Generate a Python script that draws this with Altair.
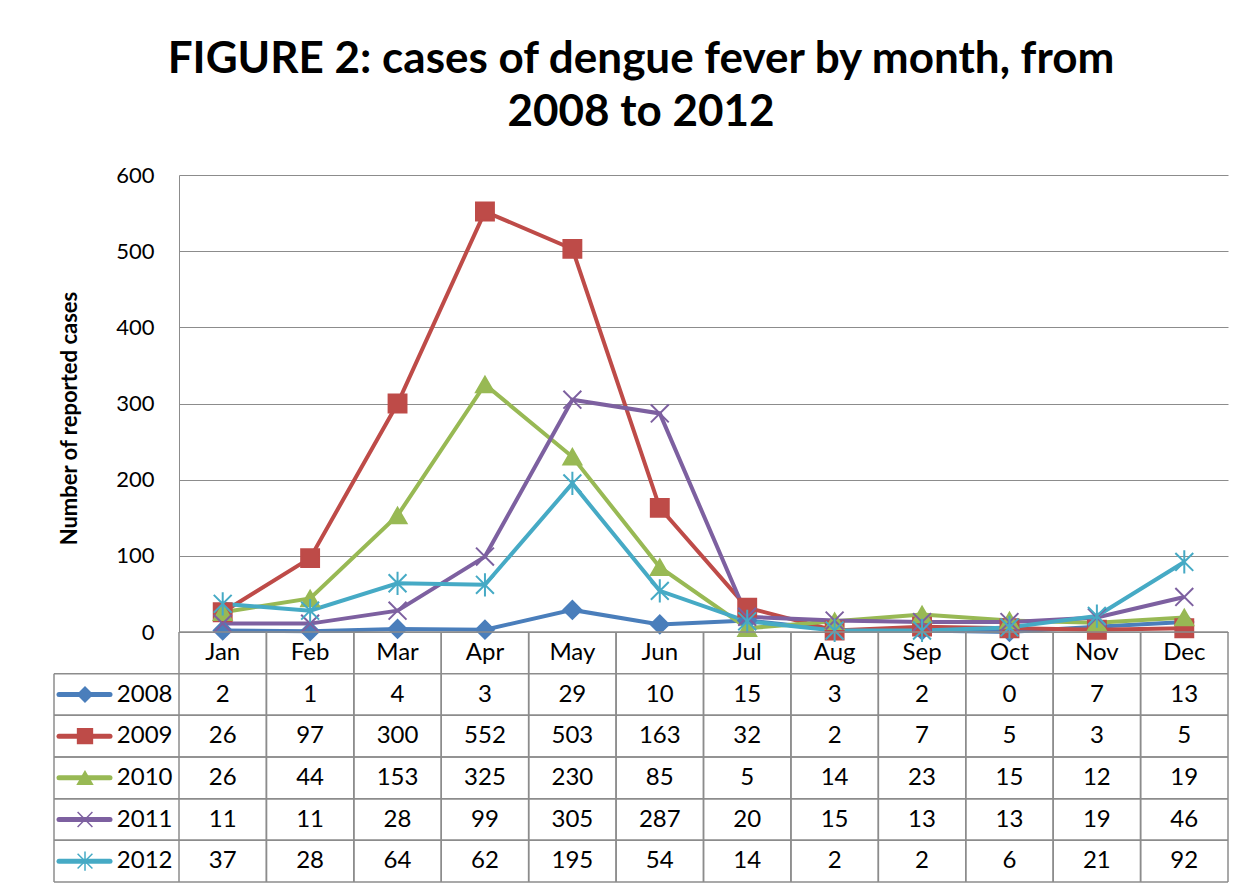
import altair as alt
import pandas as pd

months = ["Jan", "Feb", "Mar", "Apr", "May", "Jun", "Jul", "Aug", "Sep", "Oct", "Nov", "Dec"]
years = ["2008", "2009", "2010", "2011", "2012"]
v2008 = [2, 1, 4, 3, 29, 10, 15, 3, 2, 0, 7, 13]
v2009 = [26, 97, 300, 552, 503, 163, 32, 2, 7, 5, 3, 5]
v2010 = [26, 44, 153, 325, 230, 85, 5, 14, 23, 15, 12, 19]
v2011 = [11, 11, 28, 99, 305, 287, 20, 15, 13, 13, 19, 46]
v2012 = [37, 28, 64, 62, 195, 54, 14, 2, 2, 6, 21, 92]
series = [v2008, v2009, v2010, v2011, v2012]

colors = ["#4A7EBB", "#BE4B48", "#98B954", "#7D60A0", "#46AAC5"]
shapes = ["diamond", "square", "triangle-up",
          "M-1,-1L1,1M-1,1L1,-1",
          "M-1,-1L1,1M-1,1L1,-1M0,-1.3L0,1.3"]

FONT = "Lato"
W = 1049
H = 457
TH = 250
RH = TH / 6
GRID = "#8C8C8C"
TFS = 24

rows = []
for y, vals in zip(years, series):
    for m, v in zip(months, vals):
        rows.append({"year": y, "month": m, "value": v})
df = pd.DataFrame(rows)

color_scale = alt.Scale(domain=years, range=colors)
shape_scale = alt.Scale(domain=years, range=shapes)

base = alt.Chart(df).encode(
    x=alt.X("month:N", sort=months, scale=alt.Scale(padding=0.5), axis=None),
    y=alt.Y("value:Q", scale=alt.Scale(domain=[0, 600], nice=False),
            axis=alt.Axis(values=[0, 100, 200, 300, 400, 500, 600], title="Number of reported cases",
                          titleFont=FONT, titleFontSize=22, titleFontWeight="bold", titleColor="#000",
                          titlePadding=34, titleY=243, labelFont=FONT, labelFontSize=22, labelColor="#000",
                          labelPadding=25, ticks=False, domainColor=GRID, gridColor=GRID,
                          gridOpacity=1)),
    color=alt.Color("year:N", scale=color_scale, legend=None),
)
lines = base.mark_line(strokeWidth=4)
points = base.mark_point(size=320, strokeWidth=2, opacity=1).encode(
    shape=alt.Shape("year:N", scale=shape_scale, legend=None),
    fill=alt.Fill("year:N", scale=color_scale, legend=None),
    stroke=alt.Stroke("year:N", scale=color_scale, legend=None),
)
top = alt.layer(lines, points).properties(width=W, height=H)

# table
row_names = ["M"] + years
trows = []
for m in months:
    trows.append({"row": "M", "month": m, "text": m})
for y, vals in zip(years, series):
    for m, v in zip(months, vals):
        trows.append({"row": y, "month": m, "text": str(v)})
tdf = pd.DataFrame(trows)

xband = alt.Scale(domain=months, paddingInner=0, paddingOuter=0)
yband = alt.Scale(domain=row_names, paddingInner=0, paddingOuter=0)

ty_axis = alt.Axis(title=None, labelExpr="datum.value == 'M' ? '' : datum.value", ticks=False,
                   domain=False, labelPadding=7, labelFont=FONT, labelFontSize=TFS,
                   labelColor="#000", grid=False)

ttext = alt.Chart(tdf).mark_text(font=FONT, fontSize=TFS, color="#000").encode(
    x=alt.X("month:N", scale=xband, axis=None),
    y=alt.Y("row:N", scale=yband, axis=ty_axis),
    text="text:N",
)

mdf = pd.DataFrame({"month": months})
vrule0 = alt.Chart(mdf).mark_rule(color=GRID, strokeWidth=1.5).encode(
    x=alt.X("month:N", scale=xband, bandPosition=0, axis=None),
    y=alt.value(0), y2=alt.value(TH),
)
vrule1 = alt.Chart(mdf).mark_rule(color=GRID, strokeWidth=1.5).encode(
    x=alt.X("month:N", scale=xband, bandPosition=1, axis=None),
    y=alt.value(0), y2=alt.value(TH),
)

topline = alt.Chart(pd.DataFrame({"row": ["M"]})).mark_rule(color=GRID, strokeWidth=1.5).encode(
    y=alt.Y("row:N", scale=yband, bandPosition=0, axis=ty_axis),
    x=alt.value(0), x2=alt.value(W),
)

ydf = pd.DataFrame({"row": years})
hrule0 = alt.Chart(ydf).mark_rule(color=GRID, strokeWidth=1.5).encode(
    y=alt.Y("row:N", scale=yband, bandPosition=0, axis=ty_axis),
    x=alt.value(-125), x2=alt.value(W),
)
hrule1 = alt.Chart(ydf).mark_rule(color=GRID, strokeWidth=1.5).encode(
    y=alt.Y("row:N", scale=yband, bandPosition=1, axis=ty_axis),
    x=alt.value(-125), x2=alt.value(W),
)
lrule = alt.Chart(pd.DataFrame({"row": ["M"]})).mark_rule(color=GRID, strokeWidth=1.5).encode(
    x=alt.value(-125), y=alt.value(RH), y2=alt.value(TH),
)

leg_line = alt.Chart(ydf).mark_rule(strokeWidth=5, strokeCap="round").encode(
    y=alt.Y("row:N", scale=yband, axis=ty_axis),
    x=alt.value(-120), x2=alt.value(-69),
    color=alt.Color("row:N", scale=color_scale, legend=None),
)
leg_pt = alt.Chart(ydf).mark_point(size=220, strokeWidth=1.5, opacity=1).encode(
    y=alt.Y("row:N", scale=yband, axis=ty_axis),
    x=alt.value(-94),
    shape=alt.Shape("row:N", scale=shape_scale, legend=None),
    fill=alt.Fill("row:N", scale=color_scale, legend=None),
    stroke=alt.Stroke("row:N", scale=color_scale, legend=None),
)

table = alt.layer(vrule0, vrule1, topline, hrule0, hrule1, lrule, leg_line, leg_pt, ttext).properties(
    width=W, height=TH)

chart = alt.vconcat(top, table, spacing=0, bounds="flush").resolve_scale(
    x="independent", y="independent"
).properties(
    title=alt.TitleParams(
        text=["FIGURE 2: cases of dengue fever by month, from", "2008 to 2012"],
        font=FONT, fontSize=44, fontWeight="bold", color="#000", anchor="middle",
        lineHeight=53, offset=29,
    ),
    padding={"left": 45, "top": 30, "right": 10, "bottom": 5},
    background="white",
).configure_view(stroke=None)

chart.save("out.html", embed_options={"renderer": "svg", "actions": False})
